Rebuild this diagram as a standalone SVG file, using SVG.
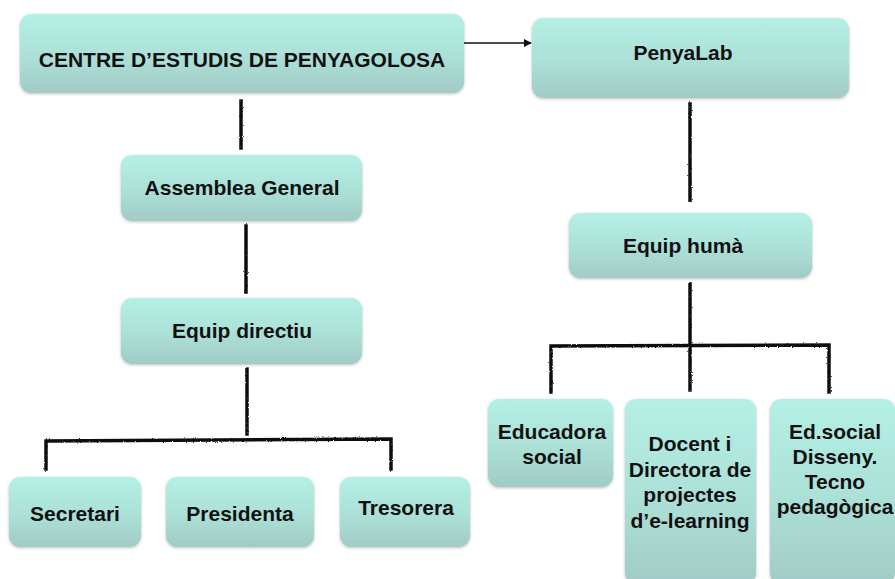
<svg xmlns="http://www.w3.org/2000/svg" width="895" height="579" viewBox="0 0 895 579">
<style>
.box{fill:url(#g);filter:url(#sh)}
.t{font-family:"Liberation Sans",Arial,sans-serif;font-weight:bold;font-size:21px;fill:#111;text-anchor:middle}
.c{fill:none;stroke:#111;stroke-width:3.5;stroke-linecap:square}
</style>
<defs>
<linearGradient id="g" x1="0" y1="0" x2="0" y2="1">
<stop offset="0" stop-color="#b4f0e5"/>
<stop offset="0.55" stop-color="#abe0d7"/>
<stop offset="1" stop-color="#a2cbc6"/>
</linearGradient>
<filter id="sh" x="-10%" y="-10%" width="120%" height="130%">
<feDropShadow dx="0" dy="1" stdDeviation="1.5" flood-color="#000" flood-opacity="0.25"/>
</filter>
<filter id="rough" filterUnits="userSpaceOnUse" x="0" y="0" width="895" height="579">
<feTurbulence type="fractalNoise" baseFrequency="0.8" numOctaves="2" seed="3"/>
<feDisplacementMap in="SourceGraphic" scale="2.2" xChannelSelector="R" yChannelSelector="G"/>
</filter>
<marker id="ah" viewBox="0 0 10 10" refX="9" refY="5" markerWidth="8" markerHeight="8" markerUnits="userSpaceOnUse" orient="auto">
<path d="M0,0 L10,5 L0,10 z" fill="#111"/>
</marker>
</defs>
<rect width="895" height="579" fill="#fff"/>
<g id="connectors">
<line x1="464" y1="43" x2="531" y2="43" stroke="#111" stroke-width="1.5" marker-end="url(#ah)"/>
<g filter="url(#rough)">
<path class="c" d="M241,101 L241,148"/>
<path class="c" d="M246,226 L246,292"/>
<path class="c" d="M247,369 L247,434"/>
<path class="c" d="M46,469 L46,441 L391,439 L391,469"/>
<path class="c" d="M690,104 L690,200"/>
<path class="c" d="M690,284 L690,390"/>
<path class="c" d="M551,392 L551,346 L829,345 L829,392"/>
</g>
</g>
<g id="n-centre"><rect class="box" x="20" y="14" width="444" height="79" rx="11"/><text class="t" x="242" y="67">CENTRE D’ESTUDIS DE PENYAGOLOSA</text></g>
<g id="n-penyalab"><rect class="box" x="532" y="18" width="317" height="80" rx="11"/><text class="t" x="683" y="60">PenyaLab</text></g>
<g id="n-assemblea"><rect class="box" x="121" y="155" width="241" height="66" rx="11"/><text class="t" x="242" y="195">Assemblea General</text></g>
<g id="n-directiu"><rect class="box" x="121" y="298" width="241" height="66" rx="11"/><text class="t" x="242" y="338">Equip directiu</text></g>
<g id="n-secretari"><rect class="box" x="9" y="477" width="132" height="70" rx="11"/><text class="t" x="75" y="521">Secretari</text></g>
<g id="n-presidenta"><rect class="box" x="166" y="477" width="148" height="70" rx="11"/><text class="t" x="240" y="521">Presidenta</text></g>
<g id="n-tresorera"><rect class="box" x="340" y="477" width="130" height="70" rx="11"/><text class="t" x="406" y="515">Tresorera</text></g>
<g id="n-huma"><rect class="box" x="569" y="213" width="243" height="65" rx="11"/><text class="t" x="683" y="253">Equip humà</text></g>
<g id="n-educadora"><rect class="box" x="488" y="399" width="125" height="88" rx="11"/><text class="t" x="552" y="439">Educadora</text><text class="t" x="552" y="464">social</text></g>
<g id="n-docent"><rect class="box" x="625" y="399" width="131" height="185" rx="11"/><text class="t" x="690" y="451">Docent i</text><text class="t" x="690" y="477">Directora de</text><text class="t" x="690" y="502">projectes</text><text class="t" x="690" y="528">d’e-learning</text></g>
<g id="n-edsocial"><rect class="box" x="770" y="399" width="125" height="185" rx="11"/><text class="t" x="835" y="439">Ed.social</text><text class="t" x="835" y="464">Disseny.</text><text class="t" x="835" y="489">Tecno</text><text class="t" x="835" y="514">pedagògica</text></g>
</svg>
